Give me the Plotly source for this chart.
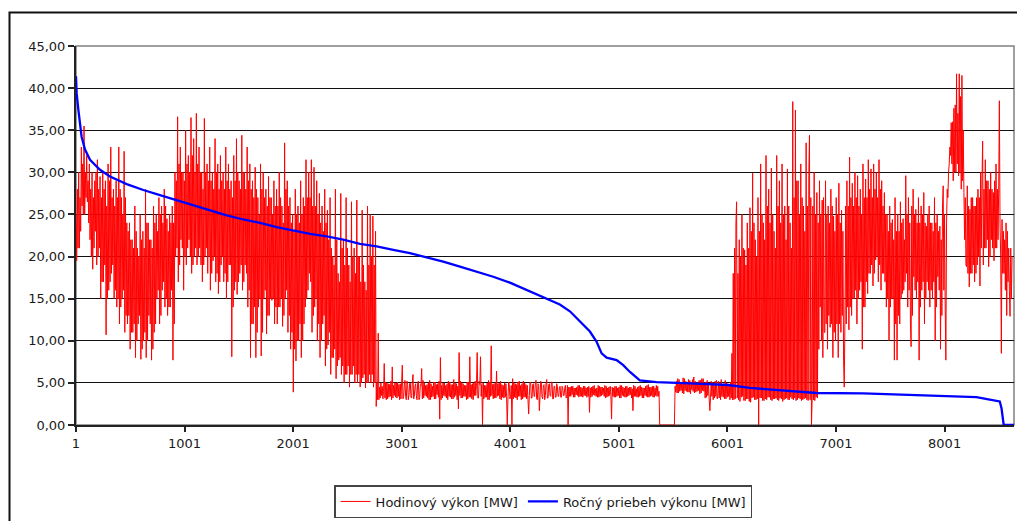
import plotly.graph_objects as go

# ---- data ----
# Hourly power: for every block, "peaks/troughs" read first, then the
# neighbouring peaks/troughs read between them ("_mid").
READ_STEP_H = 6.158  # hours between read-off samples of the hourly series

hodinovy_blok1 = [25, 19.5, 30, 21, 33, 26, 35.5, 25, 32, 26.5,
                  31, 22, 30, 18.5, 29, 23, 31.5, 20, 29.5, 15,
                  30, 17, 29, 10.7, 31, 16, 33, 18, 28, 15,
                  29, 14, 33, 12, 27, 15, 32.5, 11, 24, 12,
                  24, 9, 22, 11, 26, 8, 21, 12, 25, 7.8,
                  23, 10, 28, 8, 24, 13, 22, 7.7, 26, 11,
                  25, 15, 27, 12, 26, 16, 28, 14, 24.5, 13,
                  25, 14, 26, 7.7, 30, 20, 36.6, 17, 33, 22]
hodinovy_blok1_mid = [28, 21, 27, 23, 31, 25, 30, 27, 29, 24,
                      28, 20, 27, 21, 30, 19, 28, 21, 27, 17,
                      28, 19, 26, 15, 29, 17, 27, 19, 26, 16,
                      27, 15, 28, 14, 25, 16, 27, 13, 23, 13,
                      22, 11, 21, 12, 23, 10, 20, 13, 22, 9,
                      21, 11, 24, 10, 22, 12, 21, 9, 24, 12,
                      23, 16, 25, 13, 24, 17, 26, 15, 23, 14,
                      24, 16, 24, 12, 29, 21, 31, 19, 30, 21]
hodinovy_blok2 = [30, 16, 35, 19, 32, 22, 36.5, 18, 34, 20,
                  37, 19, 33, 21, 30, 17, 36.4, 20, 31, 18,
                  33, 16, 30, 19.5, 34, 17, 31, 15.6, 32, 19,
                  30, 17, 33, 15, 31, 19, 29, 8.1, 32, 16,
                  34, 15.5, 29, 18, 34.4, 16, 30, 19, 33, 14,
                  31, 8, 29, 12, 30.6, 8, 27, 14, 31, 8.2,
                  30, 15, 28, 10.8, 29.5, 13, 27, 14.8, 29, 12,
                  28, 12, 30, 14, 26, 11.7, 33.5, 15, 29, 11]
hodinovy_blok2_mid = [29, 20, 31, 21, 30, 20, 32, 19, 30, 21,
                      31, 20, 30, 19, 28, 19, 30, 21, 29, 20,
                      29, 18, 28, 20, 30, 18, 28, 17, 29, 20,
                      28, 18, 29, 17, 28, 19, 27, 14, 29, 17,
                      30, 17, 28, 19, 30, 17, 28, 18, 29, 16,
                      28, 12, 27, 14, 28, 11, 25, 15, 28, 11,
                      27, 16, 26, 13, 27, 15, 25, 15, 26, 14,
                      26, 14, 27, 15, 24, 13, 28, 16, 26, 13]
hodinovy_blok3 = [27, 9, 25, 3.9, 28, 7.6, 26, 10, 29, 8,
                  27, 12, 31.5, 15, 30, 18, 31.5, 11, 30.6, 14,
                  29, 10, 27.5, 8, 26, 12, 28, 7, 25.5, 9.5,
                  27, 6, 20, 8, 28, 5.5, 18, 7.7, 27.5, 6,
                  22, 5, 27, 6, 19, 4.5, 26.5, 6, 21, 5,
                  26.7, 5, 20, 4.5, 25.5, 5.6, 17, 4.4, 26, 5,
                  25, 5, 24.8, 4.5, 23, 2.2, 10.9, 3, 5, 3.5,
                  4, 7.3, 3, 5, 3.3, 4.8, 3, 6.9, 3.5, 5]
hodinovy_blok3_mid = [24, 11, 23, 9, 25, 10, 24, 12, 25, 10,
                      26, 14, 27, 16, 27, 17, 26, 13, 26, 15,
                      25, 12, 24, 10, 23, 13, 24, 9, 22, 11,
                      21, 8, 19, 9, 22, 7, 17, 8, 21, 7,
                      19, 6, 21, 7, 17, 6, 20, 7, 18, 6,
                      20, 6, 17, 5, 19, 6, 16, 5, 19, 6,
                      20, 6, 19, 5, 5, 3, 4.5, 3.2, 4.6, 3.1,
                      3.2, 5.1, 3.1, 4.9, 3.4, 5.2, 3.2, 4.7, 3.3, 5.0]
hodinovy_blok4 = [3.2, 5.1, 3.0, 4.9, 7.1, 3.1, 5.3, 3.4, 4.8, 3.0,
                  5.0, 3.3, 6.0, 3.1, 4.9, 3.5, 5.2, 3.0, 4.7, 6.7,
                  3.2, 5.0, 3.4, 4.8, 3.0, 5.3, 3.3, 4.6, 3.1, 5.1,
                  3.6, 4.9, 0.7, 8.0, 3.2, 5.0, 3.4, 4.7, 3.0, 5.2,
                  3.3, 4.8, 3.1, 5.4, 3.5, 4.9, 1.9, 8.6, 3.2, 5.0,
                  3.4, 4.7, 3.0, 5.1, 3.3, 8.1, 3.1, 4.9, 3.5, 5.2,
                  8.6, 3.2, 4.8, 8.1, 0.0, 5.0, 3.3, 4.7, 3.0, 5.3,
                  3.4, 9.4, 3.1, 4.9, 3.2, 6.4, 3.5, 5.0, 3.0, 4.8]
hodinovy_blok4_mid = [3.4, 4.8, 3.1, 5.0, 3.3, 4.7, 3.0, 5.2, 3.5, 4.9,
                      3.2, 5.1, 3.4, 4.6, 3.0, 5.0, 3.3, 4.8, 3.1, 5.3,
                      3.5, 4.7, 3.2, 5.0, 3.0, 4.9, 3.4, 5.1, 3.1, 4.8,
                      3.3, 5.2, 3.0, 4.7, 3.5, 5.0, 3.2, 4.9, 3.4, 5.1,
                      3.1, 4.8, 3.3, 5.0, 3.0, 4.6, 3.5, 5.2, 3.2, 4.9,
                      3.4, 4.7, 3.1, 5.1, 3.3, 4.8, 3.0, 5.0, 3.5, 4.9,
                      3.2, 5.2, 3.4, 4.8, 3.1, 4.7, 3.3, 5.0, 3.0, 5.1,
                      3.5, 4.8, 3.2, 5.0, 3.4, 4.9, 3.1, 5.2, 3.3, 4.7]
hodinovy_blok5 = [3.2, 5.0, 3.4, 0.0, 4.8, 3.1, 0.0, 5.5, 3.3, 4.9,
                  3.0, 5.1, 3.4, 4.7, 3.1, 5.2, 3.3, 4.8, 3.0, 1.3,
                  5.0, 3.2, 4.9, 3.4, 5.3, 3.1, 4.7, 1.7, 5.0, 3.3,
                  4.8, 3.0, 5.4, 3.2, 4.9, 3.5, 5.1, 3.1, 4.6, 3.3,
                  4.5, 3.4, 4.6, 3.3, 4.4, 3.5, 4.7, 3.2, 0.0, 4.5,
                  3.4, 4.6, 3.3, 4.4, 3.6, 4.5, 3.3, 4.7, 3.4, 4.4,
                  3.5, 4.6, 3.3, 4.5, 1.5, 4.4, 3.4, 4.6, 3.5, 4.3,
                  3.3, 4.7, 3.4, 4.5, 3.6, 4.4, 3.2, 4.6, 3.4, 4.5]
hodinovy_blok5_mid = [3.3, 4.9, 3.0, 5.1, 3.4, 4.7, 3.1, 5.0, 3.2, 4.8,
                      3.4, 5.2, 3.0, 4.9, 3.3, 5.0, 3.1, 4.7, 3.5, 5.1,
                      3.2, 4.8, 3.4, 5.0, 3.0, 4.9, 3.3, 5.2, 3.1, 4.7,
                      3.5, 5.0, 3.2, 4.8, 3.4, 5.1, 3.1, 4.6, 3.3, 4.9,
                      3.4, 4.5, 3.3, 4.6, 3.5, 4.4, 3.3, 4.7, 3.4, 4.5,
                      3.6, 4.6, 3.3, 4.4, 3.5, 4.7, 3.4, 4.5, 3.3, 4.6,
                      3.5, 4.4, 3.4, 4.6, 3.3, 4.5, 3.6, 4.7, 3.4, 4.4,
                      3.3, 4.6, 3.5, 4.5, 3.4, 4.7, 3.3, 4.4, 3.5, 4.6]
hodinovy_blok6 = [3.5, 0.7, 4.4, 3.3, 4.6, 3.4, 4.5, 3.2, 4.7, 3.5,
                  4.4, 3.3, 4.6, 3.4, 4.5, 3.6, 4.3, 1.7, 4.6, 3.4,
                  4.5, 3.3, 4.7, 3.5, 4.4, 3.2, 4.6, 3.4, 4.8, 3.3,
                  4.5, 3.5, 4.6, 3.3, 4.7, 3.4, 4.0, 0.0, 0.0, 0.0,
                  0.0, 0.0, 0.0, 0.0, 0.0, 0.0, 0.0, 0.0, 4.6, 3.9,
                  5.5, 3.8, 5.0, 4.1, 5.6, 3.7, 5.2, 4.0, 5.4, 3.9,
                  5.1, 4.2, 5.7, 3.8, 5.0, 4.0, 5.3, 3.7, 5.5, 4.1,
                  5.0, 3.2, 5.3, 3.5, 1.7, 3.3, 5.1, 3.0, 5.2, 3.4]
hodinovy_blok6_mid = [4.5, 3.4, 4.6, 3.3, 4.4, 3.5, 4.7, 3.2, 4.5, 3.4,
                      4.6, 3.3, 4.4, 3.5, 4.5, 3.2, 4.7, 3.4, 4.3, 3.3,
                      4.6, 3.4, 4.5, 3.2, 4.4, 3.5, 4.7, 3.3, 4.5, 3.4,
                      4.6, 3.3, 4.4, 3.5, 4.6, 3.4, 0.0, 0.0, 0.0, 0.0,
                      0.0, 0.0, 0.0, 0.0, 0.0, 0.0, 0.0, 0.0, 5.2, 3.8,
                      5.4, 4.0, 5.1, 3.8, 5.5, 4.1, 5.0, 3.9, 5.3, 3.7,
                      5.4, 4.0, 5.2, 3.9, 5.0, 4.1, 5.3, 3.8, 5.5, 4.0,
                      5.1, 3.3, 5.0, 3.1, 5.2, 3.4, 5.0, 3.2, 5.3, 3.1]
hodinovy_blok7 = [3.5, 5.2, 3.0, 5.4, 3.3, 4.9, 3.1, 5.0, 3.4, 4.8,
                  3.2, 8.5, 3.0, 21, 26.5, 3.2, 22, 2.8, 25, 3.4,
                  20.8, 2.9, 24, 3.1, 25.8, 2.7, 29.9, 3.3, 22, 3.0,
                  27, 0.0, 31, 3.2, 24, 2.9, 32, 3.0, 28, 3.3,
                  30.5, 2.9, 23, 3.1, 32, 3.0, 29, 3.2, 31, 2.8,
                  26, 3.1, 30.4, 3.0, 24, 3.3, 38.4, 3.0, 37.4, 2.9,
                  29, 3.2, 31, 2.9, 26, 3.1, 33.5, 3.0, 29.6, 34.4,
                  0.0, 3.1, 30, 2.9, 27.6, 3.2, 29, 14, 26.7, 8]
hodinovy_blok7_mid = [3.2, 5.0, 3.4, 4.8, 3.1, 5.3, 3.3, 4.9, 3.0, 5.1,
                      3.0, 18, 3.1, 24, 18, 3.0, 20, 3.3, 21, 2.9,
                      19, 3.1, 21, 2.8, 23, 3.2, 24, 3.0, 20, 3.1,
                      23, 3.2, 25, 2.9, 22, 3.1, 26, 3.3, 24, 3.0,
                      25, 3.1, 21, 3.2, 26, 2.9, 24, 3.1, 25, 3.0,
                      22, 3.2, 26, 3.0, 21, 3.1, 27, 3.2, 29, 3.0,
                      25, 3.1, 27, 3.0, 23, 3.2, 26, 2.9, 3.0, 27,
                      26, 3.0, 25, 3.3, 24, 9, 25, 10, 27, 11]
hodinovy_blok8 = [11, 29, 9, 26, 11.6, 28, 8, 24.8, 10, 27,
                  8, 28.7, 11, 25.5, 7.7, 4.5, 12, 29, 11.3, 31.8,
                  13, 28.7, 15, 30, 12, 29.6, 16, 28, 9, 31,
                  14, 29.2, 15.6, 31.5, 18, 30.4, 16.5, 31, 19.6, 30,
                  17, 31.5, 16, 29, 18, 27.6, 14, 25, 10, 26,
                  15, 24.4, 7.7, 27, 7.7, 25, 12, 26.5, 15.6, 24.5,
                  17, 29.6, 14, 27, 12, 9.3, 28, 17.6, 25.6, 15,
                  27, 7.7, 26, 16, 27.6, 12, 23.6, 17, 26, 14]
hodinovy_blok8_mid = [12, 25, 13, 24, 12, 26, 11, 23, 12, 25,
                      12, 24, 13, 23, 12, 26, 14, 26, 14, 27,
                      15, 26, 16, 27, 15, 26, 17, 25, 14, 27,
                      17, 27, 18, 28, 19, 27, 18, 28, 20, 27,
                      19, 28, 18, 26, 17, 25, 15, 23, 14, 24,
                      15, 22, 12, 23, 13, 23, 15, 24, 16, 22,
                      18, 25, 16, 24, 26, 13, 25, 16, 24, 17,
                      24, 14, 25, 17, 24, 15, 25, 16, 24, 16]
hodinovy_blok9 = [24, 15, 27, 10, 25, 17.6, 23.6, 9, 26, 28.4,
                  14, 7.7, 27, 30, 32, 35.9, 29, 37.6, 30, 41.7,
                  29.6, 41.7, 28, 41.5, 27.6, 22, 18.8, 28.4, 16.4, 25.6,
                  18, 27, 17, 26, 19, 28, 16.5, 30, 33.7, 19,
                  31.5, 21, 29, 18.8, 30, 22, 27.6, 19.5, 31, 21,
                  28, 38.5, 8.5, 24.4, 18, 22, 13, 23, 16, 12.9, 20]
hodinovy_blok9_mid = [23, 17, 24, 14, 23, 16, 22, 13, 16, 25,
                      24, 28, 31, 33, 31, 36, 30, 38, 31, 37,
                      30, 39, 29, 35, 27, 19, 18, 26, 18, 27,
                      19, 26, 18, 27, 20, 27, 21, 29, 28, 21,
                      29, 22, 28, 20, 28, 21, 29, 21, 28, 22,
                      24, 20, 18, 23, 16, 24, 17, 21, 21, 15]

rocny_hodina = [1, 7, 23, 38, 53, 84, 130, 222, 314, 468,
                621, 774, 928, 1081, 1235, 1388, 1542, 1696, 1849, 2002,
                2156, 2310, 2462, 2616, 2770, 2923, 3076, 3230, 3383, 3537,
                3691, 3844, 3997, 4151, 4304, 4457, 4550, 4642, 4734, 4795,
                4842, 4888, 4980, 5041, 5103, 5194, 5348, 5655, 6007, 6207,
                6391, 6821, 7251, 7650, 8033, 8294, 8417, 8509, 8525, 8539,
                8545, 8640]
rocny_mw = [41.4, 39.4, 37.4, 35.8, 34.2, 32.7, 31.5, 30.3, 29.5, 28.6,
            27.9, 27.3, 26.7, 26.1, 25.5, 24.9, 24.4, 24.0, 23.5, 23.1,
            22.7, 22.4, 22.0, 21.5, 21.2, 20.8, 20.4, 19.9, 19.4, 18.8,
            18.2, 17.6, 16.9, 16.0, 15.2, 14.3, 13.5, 12.3, 11.1, 9.9,
            8.5, 8.0, 7.7, 7.1, 6.3, 5.3, 5.1, 4.95, 4.75, 4.4,
            4.2, 3.8, 3.76, 3.6, 3.4, 3.3, 3.0, 2.8, 2.0, 0.8,
            0, 0]

x_tick_values = [1, 1001, 2001, 3001, 4001, 5001, 6001, 7001, 8001]
x_tick_labels = ["1", "1001", "2001", "3001", "4001", "5001", "6001", "7001", "8001"]


def merge_pairs(read, mid):
    """Put the in-between readings after each read pair (order along time)."""
    out = []
    for k in range(0, len(read), 2):
        out += read[k:k + 2] + mid[k:k + 2]
    return out


hodinovy = []
for a, b in [(hodinovy_blok1, hodinovy_blok1_mid), (hodinovy_blok2, hodinovy_blok2_mid),
             (hodinovy_blok3, hodinovy_blok3_mid), (hodinovy_blok4, hodinovy_blok4_mid),
             (hodinovy_blok5, hodinovy_blok5_mid), (hodinovy_blok6, hodinovy_blok6_mid),
             (hodinovy_blok7, hodinovy_blok7_mid), (hodinovy_blok8, hodinovy_blok8_mid),
             (hodinovy_blok9, hodinovy_blok9_mid)]:
    hodinovy += merge_pairs(a, b)
hodinovy_x = [1 + READ_STEP_H * i for i in range(len(hodinovy))]

# ---- figure ----
FONT = "DejaVu Sans"
L, R, T, B = 76, 3, 46, 96
W, H = 1017, 521
pw, ph = W - L - R, H - T - B


def px_to_paper_x(px):
    return (px - L) / pw


def px_to_paper_y(py):
    return (H - B - py) / ph


fig = go.Figure()
fig.add_trace(go.Scatter(
    x=hodinovy_x, y=hodinovy, mode="lines", name="Hodinový výkon [MW]",
    line=dict(color="#FF0000", width=1, simplify=False), hoverinfo="skip"))
fig.add_trace(go.Scatter(
    x=rocny_hodina, y=rocny_mw, mode="lines", name="Ročný priebeh výkonu [MW]",
    line=dict(color="#0000FF", width=2.3), hoverinfo="skip"))

fig.update_layout(
    width=W, height=H,
    margin=dict(l=L, r=R, t=T, b=B, pad=0),
    paper_bgcolor="white", plot_bgcolor="white",
    separators=", ",
    font=dict(family=FONT, size=13, color="#1a1a1a"),
    showlegend=True,
    legend=dict(orientation="h", x=0.498, xanchor="center",
                y=px_to_paper_y(485), yanchor="top",
                bordercolor="#444444", borderwidth=1.5, bgcolor="white",
                font=dict(family=FONT, size=13, color="#1a1a1a")),
    xaxis=dict(range=[1, 8640], tickmode="array", tickvals=x_tick_values,
               ticktext=x_tick_labels, ticks="outside", ticklen=5, tickwidth=1.5,
               tickcolor="#222222", showline=True, linecolor="#222222", linewidth=2,
               showgrid=False, zeroline=False, tickfont=dict(size=13),
               layer="below traces"),
    yaxis=dict(range=[0, 45], tick0=0, dtick=5, tickformat=".2f", ticks="outside",
               ticklen=6, tickwidth=1.5, tickcolor="#222222", showline=True,
               linecolor="#222222", linewidth=2, showgrid=True, gridcolor="#111111",
               gridwidth=1, zeroline=False, tickfont=dict(size=13),
               layer="below traces"),
    shapes=[
        dict(type="rect", xref="paper", yref="paper", x0=0, x1=1, y0=0, y1=1,
             line=dict(color="#808080", width=1.5), layer="below"),
        dict(type="rect", xref="paper", yref="paper",
             x0=px_to_paper_x(9.5), x1=px_to_paper_x(1040),
             y0=px_to_paper_y(560), y1=px_to_paper_y(12.5),
             line=dict(color="#111111", width=2), layer="above"),
    ],
)

fig.write_html("out.html")
